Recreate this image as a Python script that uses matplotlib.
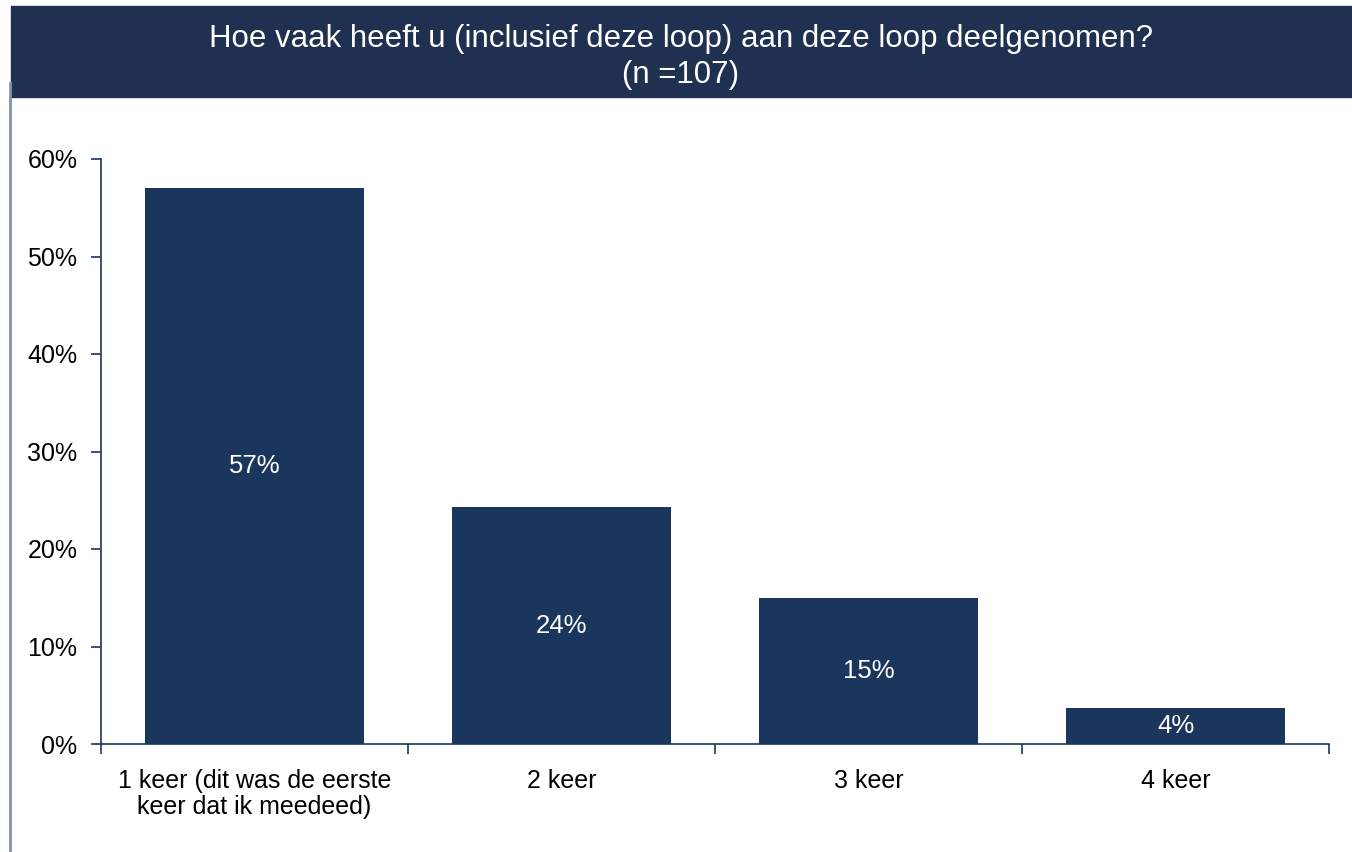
import matplotlib

matplotlib.use("Agg")
import matplotlib.pyplot as plt
from matplotlib.patches import Rectangle
from matplotlib.lines import Line2D
from matplotlib.ticker import FuncFormatter, MultipleLocator

CATEGORIES = ["1 keer (dit was de eerste\nkeer dat ik meedeed)", "2 keer", "3 keer", "4 keer"]
SHARES = [57.0, 24.3, 15.0, 3.7]
LABELS = ["57%", "24%", "15%", "4%"]
TITLE = "Hoe vaak heeft u (inclusief deze loop) aan deze loop deelgenomen?\n(n =107)"

NAVY = "#1b365d"
BAND = "#1f3050"
W, H = 1352, 852

plt.rcParams["font.family"] = ["Liberation Sans", "DejaVu Sans"]

fig = plt.figure(figsize=(W / 100, H / 100), dpi=100)
fig.patches.append(Rectangle((11 / W, 1 - 97 / H), 1 - 11 / W, 91 / H,
                             transform=fig.transFigure, color=BAND, zorder=0))
fig.lines.append(Line2D([10 / W, 10 / W], [0, 1 - 83 / H], transform=fig.transFigure,
                        color="#8593a8", linewidth=2))
fig.text(0.5 + 5 / W, 1 - 57 / H, TITLE, ha="center", va="center", color="white",
         fontsize=22.5, linespacing=1.25)

ax = fig.add_axes([101 / W, 1 - 744 / H, (1329 - 101) / W, (744 - 159) / H])
x = range(len(CATEGORIES))
bars = ax.bar(x, SHARES, width=0.713, color=NAVY, zorder=2)
for bar, lab in zip(bars, LABELS):
    ax.text(bar.get_x() + bar.get_width() / 2, bar.get_height() / 2, lab,
            ha="center", va="center", color="white", fontsize=18.5)

ax.set_xlim(-0.5, len(CATEGORIES) - 0.5)
ax.set_ylim(0, 60)
ax.yaxis.set_major_locator(MultipleLocator(10))
ax.yaxis.set_major_formatter(FuncFormatter(lambda v, _: f"{v:.0f}%"))
ax.set_xticks([i + 0.5 for i in range(-1, len(CATEGORIES))])
ax.set_xticklabels([])
ax.set_xticks(list(x), minor=True)
ax.set_xticklabels(CATEGORIES, minor=True, fontsize=18, linespacing=1.12)
ax.tick_params(axis="x", which="minor", length=0, pad=18)
ax.tick_params(axis="x", which="major", direction="out", length=7, color=NAVY, width=1.2)
ax.tick_params(axis="y", direction="out", length=7, color=NAVY, width=1.2, labelsize=18, pad=10)
for side in ("top", "right"):
    ax.spines[side].set_visible(False)
for side in ("left", "bottom"):
    ax.spines[side].set_color(NAVY)
    ax.spines[side].set_linewidth(1.2)

fig.savefig("out.png", dpi=100)
